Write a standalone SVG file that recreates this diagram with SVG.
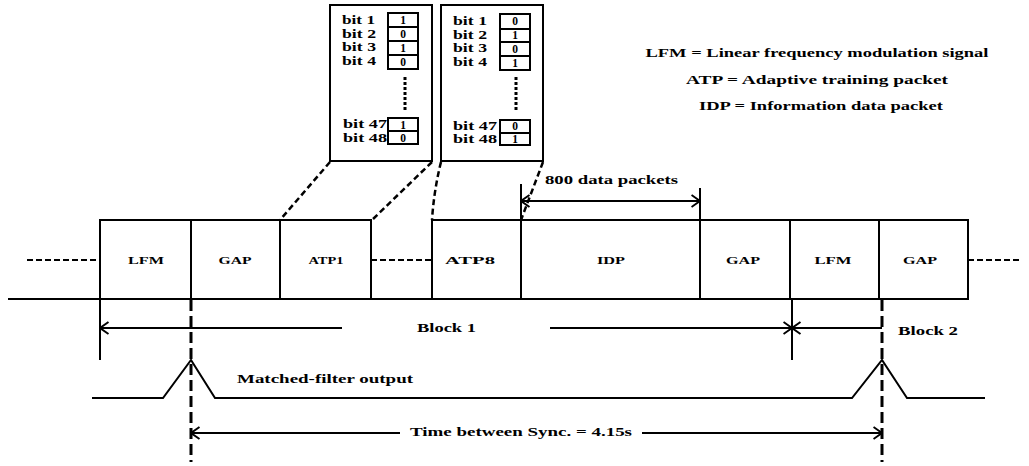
<svg xmlns="http://www.w3.org/2000/svg" width="1029" height="466" viewBox="0 0 1029 466">
<style>
text{font-family:"Liberation Serif","Times New Roman",serif;font-weight:bold;fill:#000}
.box{fill:#fff;stroke:#000;stroke-width:2}
.cell{fill:#fff;stroke:#000;stroke-width:2}
.ln{stroke:#000;stroke-width:2;fill:none}
.dash{stroke:#000;stroke-width:2;fill:none;stroke-dasharray:6 3}
.cdash{stroke:#000;stroke-width:2.5;fill:none;stroke-dasharray:6 3.5}
.vdash{stroke:#000;stroke-width:3;fill:none;stroke-dasharray:11 5}
.dots{stroke:#000;stroke-width:3;fill:none;stroke-dasharray:3 2}
.lbl{font-size:11px;text-anchor:middle}
.bit{font-size:11.5px}
.val{font-size:11.5px;text-anchor:middle}
.leg{font-size:12px;text-anchor:middle}
</style>
<defs>
<marker id="ah" viewBox="0 0 10 14" refX="9.5" refY="7" markerWidth="10" markerHeight="14" markerUnits="userSpaceOnUse" orient="auto-start-reverse">
<path d="M1,1 L9.5,7 L1,13" fill="none" stroke="#000" stroke-width="2"/>
</marker>
</defs>
<rect width="1029" height="466" fill="#fff"/>

<!-- legend -->
<g id="legend">
<text class="leg" x="817" y="57" textLength="343" lengthAdjust="spacingAndGlyphs">LFM = Linear frequency modulation signal</text>
<text class="leg" x="817" y="84" textLength="262" lengthAdjust="spacingAndGlyphs">ATP = Adaptive training packet</text>
<text class="leg" x="821" y="110" textLength="244" lengthAdjust="spacingAndGlyphs">IDP = Information data packet</text>
</g>

<!-- insert box 1 -->
<g id="bits-atp1">
<rect class="box" x="330" y="5" width="102" height="156"/>
<rect class="cell" x="388" y="13" width="30" height="14"/>
<rect class="cell" x="388" y="27" width="30" height="14"/>
<rect class="cell" x="388" y="41" width="30" height="14"/>
<rect class="cell" x="388" y="55" width="30" height="14"/>
<rect class="cell" x="388" y="118" width="30" height="13"/>
<rect class="cell" x="388" y="131" width="30" height="13"/>
<line class="dots" x1="405" y1="77" x2="405" y2="112"/>
<text class="bit" x="342" y="24" textLength="33" lengthAdjust="spacingAndGlyphs">bit 1</text>
<text class="bit" x="342" y="37.5" textLength="34" lengthAdjust="spacingAndGlyphs">bit 2</text>
<text class="bit" x="342" y="51" textLength="34" lengthAdjust="spacingAndGlyphs">bit 3</text>
<text class="bit" x="342" y="64.5" textLength="34" lengthAdjust="spacingAndGlyphs">bit 4</text>
<text class="bit" x="343" y="128" textLength="44" lengthAdjust="spacingAndGlyphs">bit 47</text>
<text class="bit" x="343" y="142" textLength="44" lengthAdjust="spacingAndGlyphs">bit 48</text>
<text class="val" x="403" y="24">1</text>
<text class="val" x="403" y="38">0</text>
<text class="val" x="403" y="52">1</text>
<text class="val" x="403" y="66">0</text>
<text class="val" x="403" y="129">1</text>
<text class="val" x="403" y="142">0</text>
</g>

<!-- insert box 2 -->
<g id="bits-atp8">
<rect class="box" x="441" y="5" width="102" height="156"/>
<rect class="cell" x="500" y="14" width="30" height="15"/>
<rect class="cell" x="500" y="29" width="30" height="13"/>
<rect class="cell" x="500" y="42" width="30" height="14"/>
<rect class="cell" x="500" y="56" width="30" height="14"/>
<rect class="cell" x="500" y="120" width="30" height="13"/>
<rect class="cell" x="500" y="133" width="30" height="12"/>
<line class="dots" x1="516" y1="77" x2="516" y2="112"/>
<text class="bit" x="453" y="25" textLength="34" lengthAdjust="spacingAndGlyphs">bit 1</text>
<text class="bit" x="453" y="38.5" textLength="34" lengthAdjust="spacingAndGlyphs">bit 2</text>
<text class="bit" x="453" y="52" textLength="34" lengthAdjust="spacingAndGlyphs">bit 3</text>
<text class="bit" x="453" y="65.5" textLength="34" lengthAdjust="spacingAndGlyphs">bit 4</text>
<text class="bit" x="453" y="130" textLength="44" lengthAdjust="spacingAndGlyphs">bit 47</text>
<text class="bit" x="453" y="143" textLength="44" lengthAdjust="spacingAndGlyphs">bit 48</text>
<text class="val" x="515" y="25">0</text>
<text class="val" x="515" y="39">1</text>
<text class="val" x="515" y="53">0</text>
<text class="val" x="515" y="67">1</text>
<text class="val" x="515" y="130">0</text>
<text class="val" x="515" y="143">1</text>
</g>

<!-- frame blocks -->
<g id="lfm1"><rect class="box" x="100" y="220" width="91" height="79"/><text class="lbl" x="146" y="264" textLength="36" lengthAdjust="spacingAndGlyphs">LFM</text></g>
<g id="gap1"><rect class="box" x="191" y="220" width="89" height="79"/><text class="lbl" x="235" y="264" textLength="33" lengthAdjust="spacingAndGlyphs">GAP</text></g>
<g id="atp1"><rect class="box" x="280" y="220" width="91" height="79"/><text class="lbl" x="326" y="264" textLength="35" lengthAdjust="spacingAndGlyphs">ATP1</text></g>
<g id="atp8"><rect class="box" x="432" y="220" width="89" height="79"/><text class="lbl" x="470" y="264" textLength="50" lengthAdjust="spacingAndGlyphs">ATP8</text></g>
<g id="idp"><rect class="box" x="521" y="220" width="179" height="79"/><text class="lbl" x="611" y="264" textLength="28" lengthAdjust="spacingAndGlyphs">IDP</text></g>
<g id="gap2"><rect class="box" x="700" y="220" width="90" height="79"/><text class="lbl" x="743" y="264" textLength="34" lengthAdjust="spacingAndGlyphs">GAP</text></g>
<g id="lfm2"><rect class="box" x="790" y="220" width="89" height="79"/><text class="lbl" x="833" y="264" textLength="37" lengthAdjust="spacingAndGlyphs">LFM</text></g>
<g id="gap3"><rect class="box" x="879" y="220" width="89" height="79"/><text class="lbl" x="920" y="264" textLength="34" lengthAdjust="spacingAndGlyphs">GAP</text></g>

<!-- labels -->
<g id="labels">
<text x="545" y="184" font-size="13" textLength="133" lengthAdjust="spacingAndGlyphs">800 data packets</text>
<text x="417" y="332" font-size="12" textLength="59" lengthAdjust="spacingAndGlyphs">Block 1</text>
<text x="898" y="335" font-size="12" textLength="60" lengthAdjust="spacingAndGlyphs">Block 2</text>
<text x="237" y="383" font-size="12" textLength="176" lengthAdjust="spacingAndGlyphs">Matched-filter output</text>
<text x="410" y="436" font-size="12" textLength="222" lengthAdjust="spacingAndGlyphs">Time between Sync. = 4.15s</text>
</g>

<!-- connectors -->
<g id="connectors">
<line class="ln" x1="8" y1="299" x2="968" y2="299"/>
<line class="dash" x1="27" y1="260" x2="100" y2="260"/>
<line class="dash" x1="371" y1="260" x2="432" y2="260"/>
<line class="dash" x1="968" y1="260" x2="1020" y2="260"/>
<line class="cdash" x1="330" y1="162" x2="280" y2="220"/>
<line class="cdash" x1="432" y1="162" x2="372" y2="220"/>
<path class="cdash" d="M441,162 Q434,190 432,220"/>
<line class="cdash" x1="543" y1="162" x2="521" y2="220"/>
<line class="ln" x1="521" y1="184" x2="521" y2="220"/>
<line class="ln" x1="700" y1="188" x2="700" y2="220"/>
<line class="ln" x1="521" y1="201" x2="700" y2="201" marker-start="url(#ah)" marker-end="url(#ah)"/>
<line class="ln" x1="100" y1="299" x2="100" y2="360"/>
<line class="ln" x1="792" y1="299" x2="792" y2="360"/>
<line class="vdash" x1="191" y1="300" x2="191" y2="462"/>
<line class="vdash" x1="882" y1="300" x2="882" y2="462"/>
<line class="ln" x1="342" y1="328" x2="100" y2="328" marker-end="url(#ah)"/>
<line class="ln" x1="550" y1="328" x2="792" y2="328" marker-end="url(#ah)"/>
<line class="ln" x1="882" y1="328" x2="792" y2="328" marker-end="url(#ah)"/>
<polyline class="ln" points="92,398 163,398 191,360 215,398 852,398 882,360 907,398 985,398"/>
<line class="ln" x1="400" y1="433" x2="191" y2="433" marker-end="url(#ah)"/>
<line class="ln" x1="642" y1="433" x2="882" y2="433" marker-end="url(#ah)"/>
</g>
</svg>
